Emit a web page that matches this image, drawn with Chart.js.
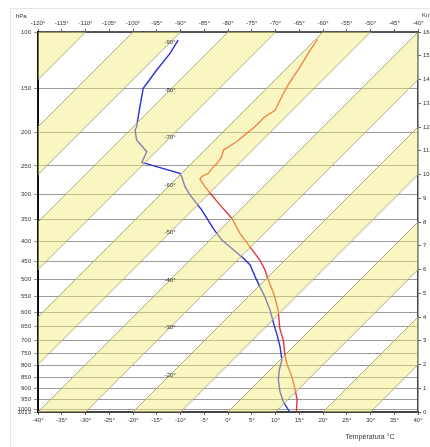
<!DOCTYPE html>
<html>
<head>
<meta charset="utf-8">
<script src="https://cdn.jsdelivr.net/npm/chart.js@4.4.0/dist/chart.umd.min.js"></script>
<style>
  body { margin: 0; background: #fff; }
</style>
</head>
<body>
<canvas id="skewt" width="430" height="447"></canvas>
<script>
// sounding: heights in km, temperatures in °C
const tempHeights = [15.69, 15.24, 14.54, 13.77, 13.42, 12.70, 12.43, 12.01, 11.73, 11.38, 11.03, 10.75, 10.54, 10.33, 10.05, 9.91, 9.80, 9.49, 9.21, 8.72, 8.16, 7.52, 6.96, 6.40, 5.98, 5.56, 4.85, 4.29, 3.52, 3.03, 2.47, 2.05, 1.49, 0.93, 0.51, 0];
const tempValues = [-59.6, -58.9, -57.5, -56.2, -55.4, -53.6, -54.4, -54.4, -54.7, -55.1, -56.1, -55.1, -54.7, -54.7, -54.4, -55.1, -54.9, -52.3, -49.8, -45.3, -40.0, -35.1, -30.2, -25.3, -22.1, -19.3, -14.4, -10.9, -6.7, -3.5, -0.4, 2.1, 6.0, 9.5, 12.0, 14.4];

const dewHeights = [15.66, 15.10, 14.40, 13.63, 12.85, 12.01, 11.87, 11.45, 10.96, 10.51, 10.33, 10.05, 9.91, 9.49, 9.14, 8.51, 7.71, 7.24, 6.47, 6.19, 5.70, 5.28, 4.85, 4.29, 3.52, 3.31, 2.75, 2.19, 1.77, 1.35, 0.85, 0.43, 0];
const dewValues = [-88.8, -87.7, -87.0, -86.0, -82.8, -79.3, -78.9, -76.5, -71.9, -70.7, -66.7, -60.4, -59.3, -56.5, -53.7, -48.1, -41.6, -37.5, -29.1, -26.3, -22.8, -19.7, -16.5, -12.6, -7.7, -6.3, -2.8, 0.4, 1.95, 3.85, 6.7, 9.5, 13.0];

// pressure levels and their standard-atmosphere heights (km)
const pressureLabels = ['100', '150', '200', '250', '300', '350', '400', '450', '500', '550', '600', '650', '700', '750', '800', '850', '900', '950', '1000', '1013'];
const pressureHeights = [16, 13.61, 11.78, 10.36, 9.16, 8.12, 7.19, 6.34, 5.57, 4.87, 4.21, 3.59, 3.01, 2.47, 1.95, 1.46, 0.99, 0.54, 0.11, 0];

const isotherms = [-110, -100, -90, -80, -70, -60, -50, -40, -30, -20, -10, 0, 10, 20, 30];
const yellowBands = [-120, -100, -80, -60, -40, -20, 0, 20];
const isoLabels = [-90, -80, -70, -60, -50, -40, -30, -20];

const SKEW = 5;        // degrees of shift per km
const TOP_KM = 16;
const LABEL_X = -12.2; // where the isotherm labels sit

function skewed(heights, temps) {
    return heights.map((h, i) => ({ x: temps[i] + SKEW * h, y: h }));
}

const datasets = [];

// yellow bands between isotherms
yellowBands.forEach(a => {
    datasets.push({
        data: [
            { x: a, y: 0 }, { x: a + 10, y: 0 },
            { x: a + 10 + SKEW * TOP_KM, y: TOP_KM }, { x: a + SKEW * TOP_KM, y: TOP_KM },
            { x: a, y: 0 }
        ],
        fill: 'shape',
        backgroundColor: 'rgba(243, 234, 120, 0.45)',
        borderWidth: 0,
        pointRadius: 0
    });
});

// isotherm lines
isotherms.forEach(t => {
    datasets.push({
        data: [{ x: t, y: 0 }, { x: t + SKEW * TOP_KM, y: TOP_KM }],
        borderColor: '#8e8e72',
        borderWidth: 0.9,
        pointRadius: 0,
        fill: false
    });
});

datasets.push({
    data: skewed(dewHeights, dewValues),
    borderColor: '#2a2ed8',
    borderWidth: 1.4,
    pointRadius: 0,
    fill: false
});
datasets.push({
    data: skewed(tempHeights, tempValues),
    borderColor: '#e8352b',
    borderWidth: 1.4,
    pointRadius: 0,
    fill: false
});

const FONT = { family: 'Liberation Sans, Arial, sans-serif', size: 6 };

const annotate = {
    id: 'annotate',
    beforeDraw(chart) {
        const ctx = chart.ctx;
        ctx.save();
        ctx.fillStyle = '#fff';
        ctx.fillRect(0, 0, chart.width, chart.height);
        ctx.strokeStyle = '#e4e4e4';
        ctx.lineWidth = 1;
        ctx.strokeRect(10.5, 8.5, chart.width, chart.height);
        ctx.restore();
    },
    afterDatasetsDraw(chart) {
        const ctx = chart.ctx;
        const xs = chart.scales.x, ys = chart.scales.y;
        ctx.save();
        ctx.font = '6px Liberation Sans, Arial, sans-serif';
        ctx.fillStyle = '#333';
        ctx.textAlign = 'center';
        ctx.textBaseline = 'middle';
        isoLabels.forEach(t => {
            const px = xs.getPixelForValue(LABEL_X);
            const py = ys.getPixelForValue((LABEL_X - t) / SKEW);
            ctx.fillText(t + '°', px, py);
        });
        ctx.restore();
    },
    afterDraw(chart) {
        const ctx = chart.ctx;
        ctx.save();
        ctx.fillStyle = '#333';
        ctx.textBaseline = 'middle';
        ctx.font = '6px Liberation Sans, Arial, sans-serif';
        ctx.textAlign = 'left';
        ctx.fillText('hPa', 16, 16);
        ctx.fillText('Km', 422, 15);
        ctx.font = '7px Liberation Sans, Arial, sans-serif';
        ctx.textAlign = 'center';
        ctx.fillText('Temperatura °C', 370, 437);
        ctx.restore();
    }
};

new Chart(document.getElementById('skewt'), {
    type: 'line',
    data: { datasets: datasets },
    options: {
        responsive: false,
        animation: false,
        layout: { padding: 0 },
        plugins: { legend: { display: false }, tooltip: { enabled: false } },
        scales: {
            x: {
                type: 'linear', position: 'bottom', min: -40, max: 40,
                afterFit: s => { s.height = 35; },
                ticks: { stepSize: 5, font: FONT, color: '#333', padding: 2, maxRotation: 0, callback: v => v + '°' },
                grid: { drawOnChartArea: false, tickLength: 3, color: '#666' },
                border: { color: '#444', width: 2 }
            },
            x2: {
                type: 'linear', position: 'top', min: -120, max: -40,
                afterFit: s => { s.height = 32; },
                ticks: { stepSize: 5, font: FONT, color: '#333', padding: 2, maxRotation: 0, callback: v => v + '°' },
                grid: { drawOnChartArea: false, tickLength: 3, color: '#666' },
                border: { color: '#555', width: 2 }
            },
            y: {
                type: 'linear', position: 'left', min: 0, max: TOP_KM,
                afterFit: s => { s.width = 38; },
                afterBuildTicks: s => { s.ticks = pressureHeights.map(v => ({ value: v })); },
                ticks: { autoSkip: false, font: FONT, color: '#333', padding: 3, callback: (v, i) => pressureLabels[i] },
                grid: { color: '#9a9a9a', lineWidth: 1, tickLength: 4 },
                border: { color: '#111', width: 2 }
            },
            y2: {
                type: 'linear', position: 'right', min: 0, max: TOP_KM,
                afterFit: s => { s.width = 12; },
                ticks: { stepSize: 1, font: FONT, color: '#333', padding: 2 },
                grid: { drawOnChartArea: false, tickLength: 3, color: '#666' },
                border: { color: '#444', width: 1.5 }
            }
        }
    },
    plugins: [annotate]
});
</script>
</body>
</html>
